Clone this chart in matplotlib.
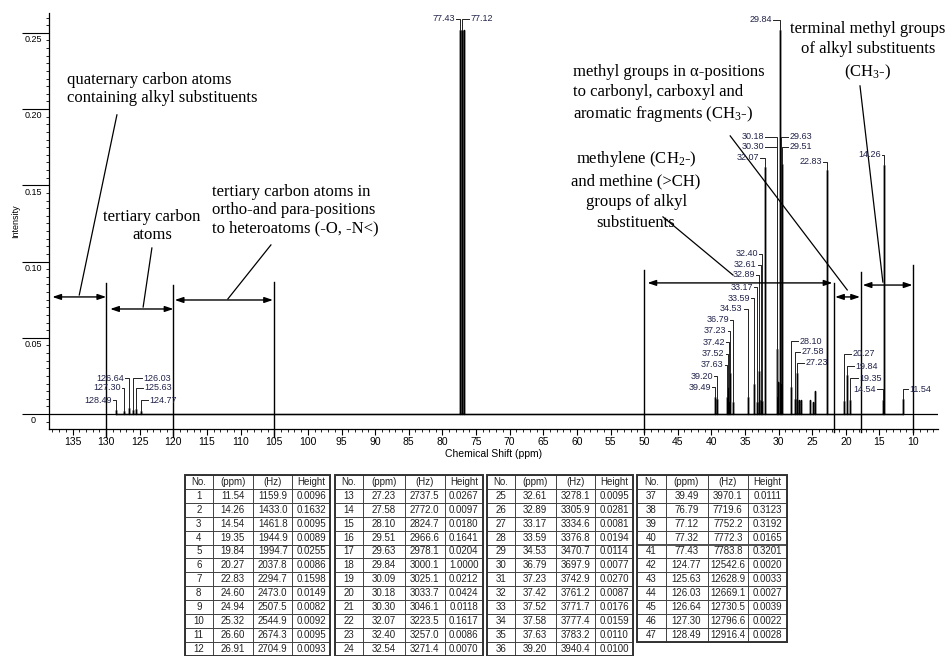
import numpy as np
import matplotlib.pyplot as plt
from matplotlib.ticker import MultipleLocator
from matplotlib.patches import Rectangle

plt.rcParams["font.family"] = ["Liberation Sans", "DejaVu Sans"]
plt.rcParams["mathtext.fontset"] = "custom"
plt.rcParams["mathtext.rm"] = "Liberation Serif"
plt.rcParams["mathtext.it"] = "Liberation Serif:italic"

# ---- peak table (No., ppm, Hz, Height) ----
peak_no = list(range(1, 48))
peak_ppm = [11.54, 14.26, 14.54, 19.35, 19.84, 20.27, 22.83, 24.60, 24.94, 25.32, 26.60, 26.91,
            27.23, 27.58, 28.10, 29.51, 29.63, 29.84, 30.09, 30.18, 30.30, 32.07, 32.40, 32.54,
            32.61, 32.89, 33.17, 33.59, 34.53, 36.79, 37.23, 37.42, 37.52, 37.58, 37.63, 39.20,
            39.49, 76.79, 77.12, 77.32, 77.43, 124.77, 125.63, 126.03, 126.64, 127.30, 128.49]
peak_hz = [1159.9, 1433.0, 1461.8, 1944.9, 1994.7, 2037.8, 2294.7, 2473.0, 2507.5, 2544.9, 2674.3, 2704.9,
           2737.5, 2772.0, 2824.7, 2966.6, 2978.1, 3000.1, 3025.1, 3033.7, 3046.1, 3223.5, 3257.0, 3271.4,
           3278.1, 3305.9, 3334.6, 3376.8, 3470.7, 3697.9, 3742.9, 3761.2, 3771.7, 3777.4, 3783.2, 3940.4,
           3970.1, 7719.6, 7752.2, 7772.3, 7783.8, 12542.6, 12628.9, 12669.1, 12730.5, 12796.6, 12916.4]
peak_height = [0.0096, 0.1632, 0.0095, 0.0089, 0.0255, 0.0086, 0.1598, 0.0149, 0.0082, 0.0092, 0.0095, 0.0093,
               0.0267, 0.0097, 0.0180, 0.1641, 0.0204, 1.0000, 0.0212, 0.0424, 0.0118, 0.1617, 0.0086, 0.0070,
               0.0095, 0.0281, 0.0081, 0.0194, 0.0114, 0.0077, 0.0270, 0.0087, 0.0176, 0.0159, 0.0110, 0.0100,
               0.0111, 0.3123, 0.3192, 0.0165, 0.3201, 0.0020, 0.0033, 0.0027, 0.0039, 0.0022, 0.0028]

CLIP = 0.252  # tall peaks are cut off at the top of the plot

ytick_vals = [0, 0.05, 0.10, 0.15, 0.20, 0.25]
ytick_labels = ["0", "0.05", "0.10", "0.15", "0.20", "0.25"]

# peak labels: (peak ppm, text x ppm, text y, side of text)
peak_labels = [
    (77.43, 77.95, 0.2592, "L"), (77.12, 76.0, 0.2592, "R"),
    (29.84, 30.82, 0.2585, "L"),
    (30.18, 32.0, 0.1818, "L"), (30.30, 32.0, 0.1752, "L"), (32.07, 32.75, 0.1680, "L"),
    (29.63, 28.58, 0.1818, "R"), (29.51, 28.58, 0.1752, "R"),
    (22.83, 23.38, 0.1654, "L"), (14.26, 14.60, 0.1700, "L"),
    (32.40, 32.85, 0.1050, "L"), (32.61, 33.06, 0.0978, "L"), (32.89, 33.34, 0.0912, "L"),
    (33.17, 33.62, 0.0833, "L"), (33.59, 34.04, 0.0761, "L"), (34.53, 35.20, 0.0689, "L"),
    (36.79, 37.20, 0.0617, "L"), (37.23, 37.55, 0.0545, "L"), (37.42, 37.80, 0.0472, "L"),
    (37.52, 37.90, 0.0394, "L"), (37.63, 38.00, 0.0322, "L"), (39.20, 39.60, 0.0249, "L"),
    (39.49, 39.90, 0.0177, "L"),
    (28.10, 27.10, 0.0479, "R"), (27.58, 26.80, 0.0407, "R"), (27.23, 26.20, 0.0335, "R"),
    (20.27, 19.20, 0.0394, "R"), (19.84, 18.77, 0.0315, "R"), (19.35, 18.18, 0.0236, "R"),
    (14.54, 15.35, 0.0164, "L"), (11.54, 10.74, 0.0164, "R"),
    (126.64, 127.17, 0.0236, "L"), (127.30, 127.60, 0.0171, "L"), (128.49, 128.96, 0.0092, "L"),
    (126.03, 124.65, 0.0236, "R"), (125.63, 124.50, 0.0171, "R"), (124.77, 123.75, 0.0092, "R"),
]

# region marker lines (ppm, top, bottom) and double arrows (from, to, y)
region_lines = [(130, 0.086, -0.0151), (120, 0.0846, -0.0151), (105, 0.0866, -0.0151),
                (50, 0.0945, -0.0118), (21.7, 0.086, -0.0118), (17.7, 0.0932, -0.0118),
                (10, 0.0978, -0.0118)]
region_arrows = [(138.0, 130.0, 0.0768), (129.4, 120.0, 0.0689), (119.8, 105.2, 0.0748),
                 (49.5, 22.0, 0.0860), (21.6, 17.9, 0.0768), (17.5, 10.1, 0.0846)]

# group annotations: text, x, y(top), ha, line spacing, leader start, leader end
groups = [
    ("quaternary carbon atoms\ncontaining alkyl substituents", 135.8, 0.2244, "left", 1.2,
     (128.4, 0.1962), (134.0, 0.0781)),
    ("tertiary carbon\natoms", 123.2, 0.1345, "center", 1.2, (123.2, 0.1089), (124.5, 0.0702)),
    ("tertiary carbon atoms in\northo-and para-positions\nto heteroatoms (-O, -N<)", 114.2, 0.1509, "left", 1.2,
     (105.5, 0.1109), (111.9, 0.0755)),
    ("methyl groups in \u03b1-positions\nto carbonyl, carboxyl and\naromatic fragments (CH$_3$-)", 60.6, 0.2297,
     "left", 1.33, (37.2, 0.1824), (19.8, 0.0814)),
    ("methylene (CH$_2$-)\nand methine (>CH)\ngroups of alkyl\nsubstituents", 51.2, 0.1739, "center", 1.38,
     (47.2, 0.1293), (36.8, 0.0912)),
    ("terminal methyl groups\nof alkyl substituents\n(CH$_3$-)", 16.7, 0.2580, "center", 1.4,
     (17.9, 0.2152), (14.5, 0.0866)),
]

W, H = 946, 656
fig = plt.figure(figsize=(W / 100, H / 100), dpi=100)
ax = fig.add_axes([49 / W, 1 - 429 / H, 889 / W, 416 / H])

# spectrum drawn as sticks on a flat baseline
ppm = np.array(peak_ppm)
hgt = np.minimum(np.array(peak_height), CLIP)
order = np.argsort(ppm)
xs = np.repeat(ppm[order], 3)
ys = np.zeros_like(xs)
ys[1::3] = hgt[order]
ax.axhline(0, color="black", lw=0.9)
ax.plot(xs, ys, color="black", lw=1.0)

ax.set_xlim(138.5, 6.3)
ax.set_ylim(-0.0098, 0.263)
for s in ("top", "right"):
    ax.spines[s].set_visible(False)
ax.spines["left"].set_linewidth(0.9)
ax.spines["bottom"].set_linewidth(0.9)

ax.xaxis.set_major_locator(MultipleLocator(5))
ax.xaxis.set_minor_locator(MultipleLocator(1))
ax.tick_params(axis="x", which="major", length=4, width=0.8, labelsize=7.5, pad=2)
ax.tick_params(axis="x", which="minor", length=2, width=0.6)
ax.set_yticks(ytick_vals)
ax.set_yticklabels([])
ax.yaxis.set_minor_locator(MultipleLocator(0.005))
ax.tick_params(axis="y", which="major", length=19.5, width=0.8)
ax.tick_params(axis="y", which="minor", length=2, width=0.6)
for v, lab in zip(ytick_vals, ytick_labels):
    ax.text(-0.018, v - 0.0015, lab, transform=ax.get_yaxis_transform(),
            ha="center", va="top", fontsize=6.5)
ax.text(-0.038, 0.5, "Intensity", transform=ax.transAxes, rotation=90,
        ha="center", va="center", fontsize=6.5)
ax.set_xlabel("Chemical Shift (ppm)", fontsize=7.5, labelpad=1)

# peak labels with bracket leaders
navy = "#22244a"
for p, tx, ty, side in peak_labels:
    top = min(peak_height[peak_ppm.index(p)], CLIP)
    ax.plot([tx, p, p], [ty, ty, top], color="#222222", lw=0.7)
    off = -1 if side == "L" else 1
    ax.annotate(f"{p:.2f}", xy=(tx, ty), xytext=(off, 0), textcoords="offset points",
                ha="right" if side == "L" else "left", va="center", fontsize=6.5, color=navy)

# region lines and arrows
for x, y0, y1 in region_lines:
    ax.plot([x, x], [y0, y1], color="black", lw=1.0, clip_on=False)
for x0, x1, y in region_arrows:
    ax.annotate("", xy=(x1, y), xytext=(x0, y),
                arrowprops=dict(arrowstyle="<|-|>,head_length=0.5,head_width=0.17",
                                color="black", lw=1.0, shrinkA=0, shrinkB=0))

# group annotations
for text, x, y, ha, ls, p0, p1 in groups:
    ax.text(x, y, text, ha=ha, va="top", multialignment=ha, family="Liberation Serif",
            fontsize=12, linespacing=ls)
    ax.plot([p0[0], p1[0]], [p0[1], p1[1]], color="black", lw=0.9, clip_on=False)

# peak table, four blocks of twelve rows
header = ["No.", "(ppm)", "(Hz)", "Height"]
blocks = [(185, 330), (335, 483), (487, 633), (637, 787)]
row_h = 13.9
for b, (x0, x1) in enumerate(blocks):
    idx = range(b * 12, min(47, b * 12 + 12))
    rows = [[str(peak_no[i]), f"{peak_ppm[i]:.2f}", f"{peak_hz[i]:.1f}", f"{peak_height[i]:.4f}"]
            for i in idx]
    h = (len(rows) + 1) * row_h
    tax = fig.add_axes([x0 / W, 1 - (475 + h) / H, (x1 - x0) / W, h / H])
    tax.axis("off")
    tbl = tax.table(cellText=rows, colLabels=header, cellLoc="center", colLoc="center",
                    bbox=[0, 0, 1, 1], colWidths=[0.19, 0.28, 0.27, 0.26])
    tbl.auto_set_font_size(False)
    tbl.set_fontsize(7)
    for cell in tbl.get_celld().values():
        cell.set_linewidth(0.6)
        cell.set_edgecolor("#333333")
        cell.get_text().set_color("#222222")
    tax.add_patch(Rectangle((0, 0), 1, 1, transform=tax.transAxes, fill=False,
                            lw=1.4, edgecolor="#333333", clip_on=False))

fig.savefig("out.png", dpi=100)
